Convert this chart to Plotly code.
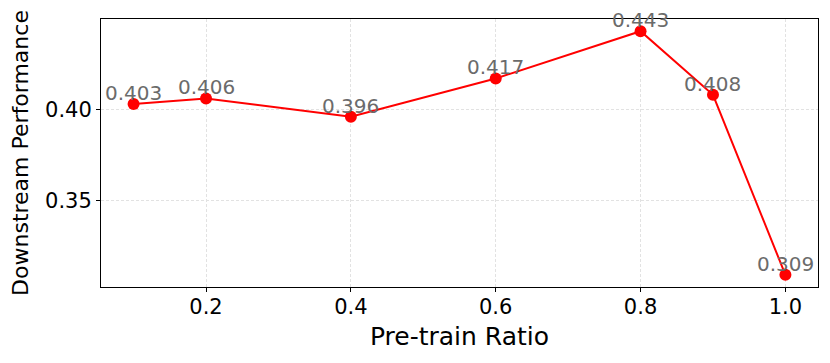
import plotly.graph_objs as go

# données
ratios = [0.1, 0.2, 0.4, 0.6, 0.8, 0.9, 1.0]
performance = [0.403, 0.406, 0.396, 0.417, 0.443, 0.408, 0.309]
x_ticks = [0.2, 0.4, 0.6, 0.8, 1.0]
y_ticks = [0.35, 0.40]

FONT = "DejaVu Sans"

fig = go.Figure()
fig.add_trace(go.Scatter(
    x=ratios,
    y=performance,
    mode="lines+markers",
    line=dict(color="#ff0000", width=2),
    marker=dict(color="#ff0000", size=12),
    showlegend=False,
))

# étiquettes de valeurs au-dessus des points
for x, y in zip(ratios, performance):
    fig.add_annotation(
        x=x, y=y, text=f"{y:.3f}",
        showarrow=False, yanchor="bottom", xanchor="center",
        yshift=-3,
        font=dict(family=FONT, size=20, color="#6b6b6b"),
    )

# marges de 5 % comme matplotlib
xr = max(ratios) - min(ratios)
yr = max(performance) - min(performance)

axis_common = dict(
    showline=True, linecolor="black", linewidth=1, mirror=True,
    ticks="outside", ticklen=4, tickcolor="black", tickwidth=1,
    showgrid=True, gridcolor="#e2e2e2", griddash="3px,2px", gridwidth=1,
    zeroline=False,
    tickfont=dict(family=FONT, size=21, color="black"),
)

fig.update_layout(
    width=830, height=363,
    margin=dict(l=101, r=12, t=19, b=76),
    plot_bgcolor="white",
    paper_bgcolor="white",
    font=dict(family=FONT, color="black"),
    xaxis=dict(
        axis_common,
        range=[min(ratios) - 0.05 * xr, max(ratios) + 0.05 * xr],
        tickvals=x_ticks, tickformat=".1f", ticklabelstandoff=-3,
        title=dict(text="Pre-train Ratio", font=dict(family=FONT, size=25), standoff=9),
    ),
    yaxis=dict(
        axis_common,
        range=[min(performance) - 0.05 * yr, max(performance) + 0.05 * yr],
        tickvals=y_ticks, tickformat=".2f",
        title=dict(text="Downstream Performance", font=dict(family=FONT, size=22), standoff=10),
    ),
)

# supprimer la marge par défaut du body
fig.write_html("out.html", config={"displayModeBar": False},
               post_script="document.body.style.margin='0';")
